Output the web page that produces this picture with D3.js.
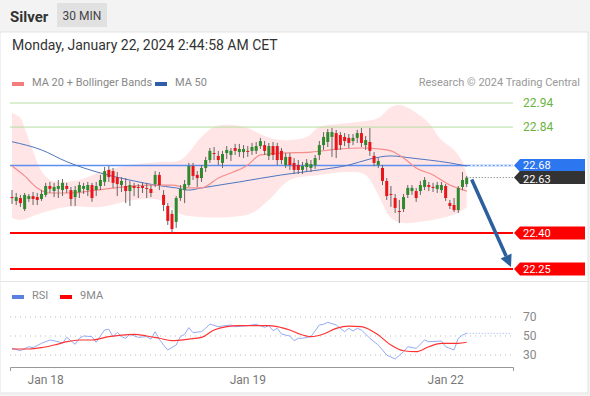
<!DOCTYPE html>
<html>
<head>
<meta charset="utf-8">
<script src="https://cdn.jsdelivr.net/npm/d3@7"></script>
<style>
  body { margin: 0; background: #f3f3f3; font-family: Roboto, "Liberation Sans", Arial, sans-serif; }
  svg { display: block; }
</style>
</head>
<body>
<div id="chart"></div>
<script>
/* Silver 30 MIN – candles, MA 20 + Bollinger, MA 50, RSI */

// candles as [open, high, low, close], one per 30 min bar
const candles = [
  [22.549, 22.578, 22.520, 22.545], [22.533, 22.566, 22.516, 22.549], [22.545, 22.558, 22.508, 22.524],
  [22.499, 22.566, 22.491, 22.558], [22.541, 22.562, 22.529, 22.553], [22.553, 22.570, 22.516, 22.541],
  [22.549, 22.566, 22.516, 22.537], [22.541, 22.578, 22.533, 22.562], [22.558, 22.608, 22.549, 22.595],
  [22.595, 22.612, 22.566, 22.583], [22.574, 22.608, 22.549, 22.591], [22.583, 22.620, 22.545, 22.595],
  [22.578, 22.624, 22.553, 22.608], [22.595, 22.608, 22.566, 22.583], [22.578, 22.591, 22.512, 22.541],
  [22.549, 22.595, 22.512, 22.578], [22.570, 22.612, 22.545, 22.599], [22.583, 22.608, 22.562, 22.595],
  [22.578, 22.612, 22.553, 22.599], [22.599, 22.608, 22.529, 22.545], [22.578, 22.612, 22.553, 22.595],
  [22.595, 22.641, 22.578, 22.620], [22.612, 22.674, 22.595, 22.657], [22.662, 22.678, 22.612, 22.632],
  [22.657, 22.670, 22.587, 22.608], [22.632, 22.653, 22.553, 22.603], [22.599, 22.632, 22.570, 22.616],
  [22.595, 22.628, 22.524, 22.574], [22.574, 22.616, 22.512, 22.599], [22.595, 22.608, 22.553, 22.587],
  [22.591, 22.603, 22.545, 22.587], [22.595, 22.608, 22.566, 22.587], [22.587, 22.608, 22.545, 22.585],
  [22.583, 22.599, 22.549, 22.566], [22.603, 22.657, 22.591, 22.641], [22.641, 22.653, 22.578, 22.599],
  [22.558, 22.578, 22.491, 22.516], [22.512, 22.524, 22.433, 22.450], [22.479, 22.495, 22.400, 22.416],
  [22.446, 22.553, 22.421, 22.545], [22.545, 22.599, 22.533, 22.583], [22.578, 22.620, 22.524, 22.603],
  [22.599, 22.691, 22.591, 22.678], [22.678, 22.691, 22.620, 22.637], [22.641, 22.657, 22.591, 22.628],
  [22.628, 22.682, 22.612, 22.670], [22.670, 22.716, 22.653, 22.703], [22.703, 22.753, 22.691, 22.741],
  [22.732, 22.757, 22.703, 22.728], [22.720, 22.741, 22.682, 22.703], [22.691, 22.741, 22.670, 22.728],
  [22.732, 22.761, 22.707, 22.745], [22.724, 22.753, 22.699, 22.741], [22.753, 22.770, 22.724, 22.741],
  [22.736, 22.770, 22.716, 22.749], [22.736, 22.765, 22.711, 22.749], [22.741, 22.761, 22.716, 22.739],
  [22.741, 22.774, 22.724, 22.757], [22.741, 22.778, 22.728, 22.761], [22.761, 22.795, 22.749, 22.782],
  [22.765, 22.782, 22.724, 22.741], [22.720, 22.774, 22.703, 22.761], [22.761, 22.778, 22.703, 22.724],
  [22.761, 22.774, 22.682, 22.703], [22.741, 22.753, 22.686, 22.703], [22.682, 22.732, 22.670, 22.716],
  [22.716, 22.732, 22.662, 22.682], [22.691, 22.711, 22.645, 22.662], [22.682, 22.703, 22.645, 22.662],
  [22.662, 22.695, 22.645, 22.678], [22.674, 22.707, 22.657, 22.691], [22.670, 22.703, 22.653, 22.686],
  [22.682, 22.724, 22.666, 22.711], [22.724, 22.782, 22.703, 22.765], [22.765, 22.819, 22.745, 22.799],
  [22.778, 22.832, 22.757, 22.819], [22.799, 22.836, 22.716, 22.819], [22.815, 22.828, 22.711, 22.745],
  [22.807, 22.819, 22.745, 22.765], [22.799, 22.815, 22.761, 22.782], [22.795, 22.811, 22.753, 22.774],
  [22.782, 22.811, 22.765, 22.795], [22.795, 22.828, 22.774, 22.815], [22.815, 22.836, 22.757, 22.774],
  [22.765, 22.803, 22.745, 22.786], [22.778, 22.836, 22.720, 22.741], [22.720, 22.736, 22.678, 22.691],
  [22.682, 22.711, 22.670, 22.699], [22.670, 22.682, 22.599, 22.616], [22.616, 22.628, 22.537, 22.553],
  [22.562, 22.595, 22.508, 22.558], [22.545, 22.562, 22.483, 22.504], [22.491, 22.537, 22.441, 22.487],
  [22.499, 22.562, 22.487, 22.549], [22.558, 22.599, 22.545, 22.587], [22.574, 22.599, 22.558, 22.587],
  [22.574, 22.587, 22.529, 22.545], [22.574, 22.616, 22.558, 22.599], [22.591, 22.632, 22.578, 22.620],
  [22.599, 22.612, 22.574, 22.591], [22.591, 22.608, 22.570, 22.587], [22.583, 22.612, 22.566, 22.599],
  [22.578, 22.612, 22.566, 22.599], [22.595, 22.603, 22.533, 22.545], [22.524, 22.537, 22.499, 22.512],
  [22.516, 22.545, 22.487, 22.495], [22.495, 22.595, 22.483, 22.587], [22.591, 22.653, 22.578, 22.620],
  [22.603, 22.637, 22.591, 22.630]
];

// indicator lines: [bar index, value]
const ma20 = [[0, 22.678], [3, 22.637], [6, 22.587], [9, 22.566], [14, 22.566], [20, 22.578], [33, 22.599],
  [38, 22.599], [42, 22.587], [45, 22.587], [49, 22.628], [56, 22.682], [59, 22.724], [64, 22.732],
  [71, 22.736], [78, 22.749], [83, 22.753], [87, 22.749], [90, 22.741], [93, 22.711], [96, 22.670],
  [100, 22.641], [104, 22.599], [108, 22.574]];
const ma50 = [[0, 22.779], [7, 22.745], [13, 22.696], [21, 22.649], [29, 22.616], [34, 22.599], [39, 22.587],
  [42, 22.578], [45, 22.587], [54, 22.612], [64, 22.641], [73, 22.662], [80, 22.682], [85, 22.707],
  [90, 22.720], [95, 22.711], [99, 22.703], [104, 22.691], [108, 22.678]];
const bbUpper = [[0, 22.898], [2, 22.878], [3, 22.836], [5, 22.741], [7, 22.657], [9, 22.620], [11, 22.612],
  [16, 22.620], [21, 22.653], [28, 22.682], [35, 22.695], [40, 22.703], [45, 22.799], [48, 22.840],
  [52, 22.849], [56, 22.836], [60, 22.803], [64, 22.786], [70, 22.799], [73, 22.840], [80, 22.857],
  [87, 22.878], [90, 22.923], [92, 22.932], [95, 22.911], [99, 22.857], [102, 22.786], [105, 22.745],
  [107, 22.695], [108, 22.641]];
const bbLower = [[0, 22.462], [2, 22.454], [7, 22.483], [13, 22.508], [21, 22.508], [29, 22.537], [35, 22.537],
  [40, 22.479], [45, 22.466], [52, 22.466], [57, 22.483], [61, 22.537], [66, 22.620], [73, 22.641],
  [80, 22.653], [84, 22.641], [87, 22.558], [90, 22.462], [93, 22.441], [97, 22.446], [102, 22.462],
  [106, 22.483], [108, 22.508]];

const rsi = [[0, 37], [2, 34.5], [4, 38.7], [5, 37.7], [7, 42.3], [9, 45.8], [11, 44], [12, 42.3], [13, 48.6],
  [15, 41.3], [16, 47.6], [17, 50], [19, 49.3], [20, 43.4], [21, 50], [22, 56.3], [23, 57], [24, 49.3],
  [25, 53.9], [26, 49.3], [27, 47.6], [28, 51.8], [30, 48.6], [32, 49.3], [33, 46.6], [34, 54.6],
  [35, 46.6], [36, 40.5], [37, 35.3], [39, 40.5], [40, 49.3], [41, 51.8], [42, 58.8], [43, 53.5],
  [45, 54.6], [46, 58.1], [47, 62.6], [49, 59.8], [50, 60.5], [52, 61.6], [53, 59.8], [56, 60.9],
  [58, 62.3], [60, 59.2], [61, 60.9], [62, 55.6], [63, 58.1], [64, 52.1], [66, 50], [67, 45],
  [68, 47.6], [69, 47.6], [71, 49.3], [73, 61.6], [74, 62.3], [75, 64.4], [77, 61.6], [79, 54.6],
  [80, 58.1], [81, 55.3], [82, 58.1], [83, 56.3], [85, 47.6], [87, 40.5], [89, 30], [91, 25.8],
  [93, 33.5], [94, 38.7], [96, 37], [98, 45.8], [99, 44], [102, 44.7], [103, 38.7], [105, 35.3],
  [106, 47.6], [107, 51], [108, 52.8]];
const rsiMa = [[0, 36.3], [4, 36.3], [7, 37.7], [10, 40.5], [13, 44], [16, 45.8], [19, 45.8], [23, 49.3],
  [26, 51], [29, 51.8], [32, 50], [35, 47.6], [38, 45.1], [42, 46.8], [45, 48.6], [48, 56.3], [51, 59.8],
  [54, 60.9], [57, 60.9], [61, 60.9], [64, 58.8], [66, 56.3], [68, 52.5], [71, 49.3], [74, 52.1],
  [77, 58.1], [80, 60.5], [83, 59.8], [87, 51], [90, 40.5], [93, 34.5], [96, 33.5], [99, 38.7],
  [102, 42.3], [106, 42.3], [108, 43.4]];

const rsiTicks = [70, 50, 30];
const dayTicks = [[8, "Jan 18"], [56, "Jan 19"], [103, "Jan 22"]];

// price levels (dy nudges the tag text so the two close tags stay readable)
const levels = [
  { value: 22.94, kind: "res", dy: 4 },
  { value: 22.84, kind: "res", dy: 4 },
  { value: 22.68, kind: "pivot", dy: 3 },
  { value: 22.63, kind: "last", dy: 5 },
  { value: 22.40, kind: "sup", dy: 4 },
  { value: 22.25, kind: "sup", dy: 4 }
];

const W = 590, H = 396;
const svg = d3.select("#chart").append("svg").attr("width", W).attr("height", H);

// header band + card
svg.append("rect").attr("x", 0).attr("y", 0).attr("width", W).attr("height", H).attr("fill", "#f3f3f3");
svg.append("rect").attr("x", 0).attr("y", 32).attr("width", 588).attr("height", 361)
  .attr("fill", "#fff").attr("stroke", "#e3e3e3");
svg.append("line").attr("x1", 0).attr("x2", 588).attr("y1", 281.5).attr("y2", 281.5).attr("stroke", "#e6e6e6");

svg.append("text").attr("x", 10).attr("y", 22).attr("font-size", 15).attr("font-weight", "bold")
  .attr("fill", "#333").text("Silver");
svg.append("rect").attr("x", 57).attr("y", 3).attr("width", 50).attr("height", 24).attr("fill", "#e1e1e1");
svg.append("text").attr("x", 82).attr("y", 20).attr("text-anchor", "middle").attr("font-size", 12)
  .attr("fill", "#444").text("30 MIN");
svg.append("text").attr("x", 12).attr("y", 50).attr("font-size", 14).attr("fill", "#333")
  .text("Monday, January 22, 2024 2:44:58 AM CET");

// legend
function legendItem(x, y, color, label) {
  svg.append("rect").attr("x", x).attr("y", y - 4).attr("width", 12).attr("height", 4).attr("fill", color);
  svg.append("text").attr("x", x + 20).attr("y", y).attr("font-size", 11).attr("fill", "#888").text(label);
}
legendItem(12, 86, "#f37d7d", "MA 20 + Bollinger Bands");
legendItem(155, 86, "#2e5ea8", "MA 50");
svg.append("text").attr("x", 580).attr("y", 86).attr("text-anchor", "end").attr("font-size", 11)
  .attr("fill", "#999").text("Research \u00a9 2024 Trading Central");

// scales
const x = d3.scaleLinear().domain([0, 108]).range([12, 466.7]);
const y = d3.scaleLinear().domain([22.25, 22.94]).range([269, 103]);
const yr = d3.scaleLinear().domain([30, 70]).range([355, 317]);

// bollinger band fill
const bandLine = d3.line().x(d => x(d[0])).y(d => y(d[1])).curve(d3.curveCatmullRom);
const bandPath = bandLine(bbUpper) + "L" + bandLine(bbLower.slice().reverse()).slice(1) + "Z";
svg.append("path").attr("d", bandPath).attr("fill", "#ffdcdc").attr("opacity", 0.75);

// level lines
const lineX0 = 10, lineX1 = 513;
levels.forEach(lv => {
  const yy = y(lv.value);
  if (lv.kind === "res") {
    svg.append("line").attr("x1", lineX0).attr("x2", lineX1).attr("y1", yy).attr("y2", yy)
      .attr("stroke", "#b7dd9f").attr("stroke-width", 1);
  } else if (lv.kind === "pivot") {
    svg.append("line").attr("x1", lineX0).attr("x2", lineX1).attr("y1", yy).attr("y2", yy)
      .attr("stroke", "#5b8ff0").attr("stroke-width", 1.5);
    svg.append("line").attr("x1", x(108) + 4).attr("x2", lineX1).attr("y1", yy).attr("y2", yy)
      .attr("stroke", "#fff").attr("stroke-width", 1).attr("stroke-dasharray", "2,2");
  } else if (lv.kind === "last") {
    svg.append("line").attr("x1", x(108) + 3).attr("x2", lineX1).attr("y1", yy).attr("y2", yy)
      .attr("stroke", "#666").attr("stroke-width", 1).attr("stroke-dasharray", "1,2");
  } else {
    svg.append("line").attr("x1", lineX0).attr("x2", lineX1).attr("y1", yy).attr("y2", yy)
      .attr("stroke", "#f00").attr("stroke-width", 2);
  }
});

// moving averages
const maLine = d3.line().x(d => x(d[0])).y(d => y(d[1])).curve(d3.curveMonotoneX);
svg.append("path").attr("d", maLine(ma50)).attr("fill", "none").attr("stroke", "#4f75c0").attr("stroke-width", 1);
svg.append("path").attr("d", maLine(ma20)).attr("fill", "none").attr("stroke", "#f58d8d").attr("stroke-width", 1.2);

// candles
const bars = svg.append("g");
candles.forEach((c, i) => {
  const [o, h, l, cl] = c;
  const cx = x(i);
  const col = cl > o ? "#2f8a2f" : cl < o ? "#e8161b" : "#666";
  bars.append("line").attr("x1", cx).attr("x2", cx).attr("y1", y(h)).attr("y2", y(l))
    .attr("stroke", "#666").attr("stroke-width", 1);
  const top = y(Math.max(o, cl)), bot = y(Math.min(o, cl));
  bars.append("rect").attr("x", cx - 1.5).attr("y", top).attr("width", 3)
    .attr("height", Math.max(1, bot - top)).attr("fill", col);
});

// level tags
levels.forEach(lv => {
  const yy = y(lv.value);
  if (lv.kind === "res") {
    svg.append("text").attr("x", 523).attr("y", yy + lv.dy).attr("font-size", 12).attr("fill", "#6db33f")
      .text(lv.value.toFixed(2));
    return;
  }
  const fill = lv.kind === "pivot" ? "#2c76f0" : lv.kind === "last" ? "#333" : "#f00";
  const x0 = 514, x1 = 585, hh = 6.5;
  svg.append("path")
    .attr("d", `M${x0},${yy} L${x0 + 6},${yy - hh} L${x1},${yy - hh} L${x1},${yy + hh} L${x0 + 6},${yy + hh} Z`)
    .attr("fill", fill);
  svg.append("text").attr("x", 523).attr("y", yy + lv.dy).attr("font-size", 11).attr("fill", "#fff")
    .text(lv.value.toFixed(2));
});

// forecast arrow
const ax0 = x(108) + 5, ay0 = y(22.63) + 2, ax1 = 511, ay1 = y(22.25) - 2;
const ang = Math.atan2(ay1 - ay0, ax1 - ax0);
const headLen = 12, headW = 6;
const bx = ax1 - headLen * Math.cos(ang), by = ay1 - headLen * Math.sin(ang);
svg.append("line").attr("x1", ax0).attr("y1", ay0).attr("x2", bx).attr("y2", by)
  .attr("stroke", "#2c5f9e").attr("stroke-width", 3.5);
svg.append("path")
  .attr("d", `M${ax1},${ay1} L${bx + headW * Math.sin(ang)},${by - headW * Math.cos(ang)} L${bx - headW * Math.sin(ang)},${by + headW * Math.cos(ang)} Z`)
  .attr("fill", "#2c5f9e");

// RSI panel
legendItem(12, 299, "#5b80e2", "RSI");
legendItem(60, 299, "#f00", "9MA");

rsiTicks.forEach(t => {
  svg.append("line").attr("x1", 10).attr("x2", 512).attr("y1", yr(t)).attr("y2", yr(t))
    .attr("stroke", "#bbb").attr("stroke-dasharray", "1,4");
  svg.append("text").attr("x", 523).attr("y", yr(t) + 4).attr("font-size", 12).attr("fill", "#888").text(t);
});

const rLine = d3.line().x(d => x(d[0])).y(d => yr(d[1]));
svg.append("path").attr("d", rLine(rsi)).attr("fill", "none").attr("stroke", "#93acf3").attr("stroke-width", 1);
const lastRsi = rsi[rsi.length - 1];
svg.append("line").attr("x1", x(lastRsi[0])).attr("x2", 512).attr("y1", yr(lastRsi[1])).attr("y2", yr(lastRsi[1]))
  .attr("stroke", "#93acf3").attr("stroke-dasharray", "1,2");
svg.append("path").attr("d", rLine.curve(d3.curveMonotoneX)(rsiMa)).attr("fill", "none")
  .attr("stroke", "#f33").attr("stroke-width", 1.2);

// time axis
svg.append("path").attr("d", "M10.5,371V367.5H513.5V371").attr("fill", "none").attr("stroke", "#999");
dayTicks.forEach(([i, label]) => {
  svg.append("text").attr("x", x(i)).attr("y", 384).attr("text-anchor", "middle").attr("font-size", 12)
    .attr("fill", "#777").text(label);
});
</script>
</body>
</html>
